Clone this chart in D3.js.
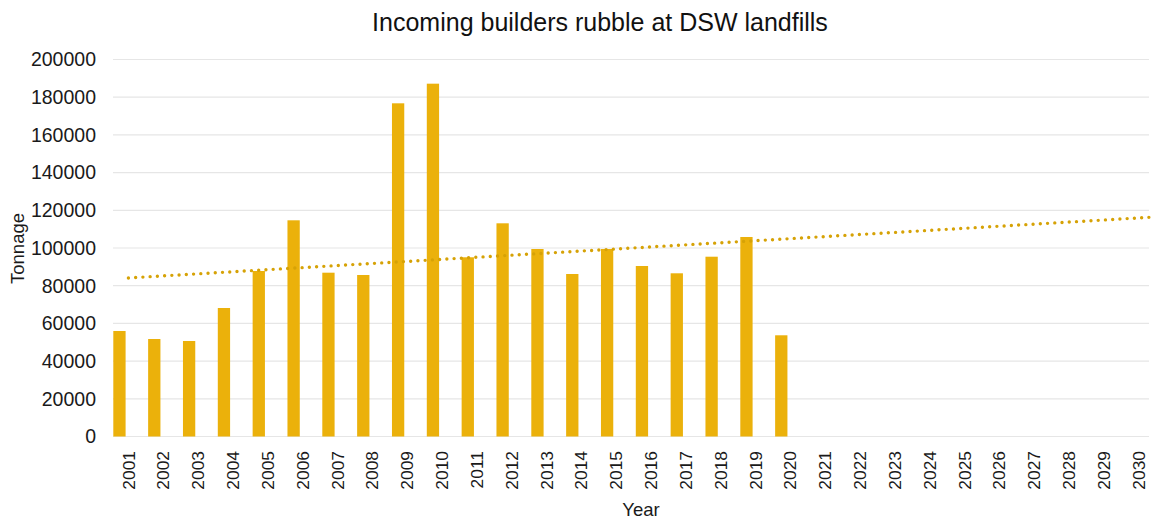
<!DOCTYPE html>
<html>
<head>
<meta charset="utf-8">
<script src="https://cdn.jsdelivr.net/npm/d3@7"></script>
<style>
  html, body { margin: 0; padding: 0; background: #fff; }
  svg { display: block; font-family: "Liberation Sans", Arial, sans-serif; }
</style>
</head>
<body>
<div id="chart"></div>
<script>
// data
const years = d3.range(2001, 2031).map(String)
const dataYears = d3.range(2001, 2021).map(String)
const tonnage = [
  55970, 51720, 50660, 68170, 87800, 114690, 86900, 85680, 176760, 187170,
  95070, 113100, 99470, 86210, 99470, 90450, 86580, 95380, 105840, 53690
]
const yTicks = d3.range(0, 200001, 20000)

const config = {
  width: 1154,
  height: 520,
  title: "Incoming builders rubble at DSW landfills",
  yTitle: "Tonnage",
  xTitle: "Year",
  barColor: "#ebb10b",
  trendColor: "#d6a206",
  gridColor: "#e6e6e6",
  textColor: "#1a1a1a",
  plot: { left: 113, right: 1149, top: 59.5, bottom: 436.5 },
  bandRange: [111, 1156]
}

const svg = d3.select("#chart").append("svg")
    .attr("width", config.width)
    .attr("height", config.height)

const x = d3.scaleBand()
    .domain(years)
    .range(config.bandRange)

const y = d3.scaleLinear()
    .domain([0, 200000])
    .range([config.plot.bottom, config.plot.top])

const step = x.step()
const barWidth = step * 0.353
const barOffset = step * 0.066

// gridlines + y labels
const yAxis = svg.append("g").attr("class", "y-axis")

yAxis.selectAll("line")
  .data(yTicks)
  .enter().append("line")
    .attr("x1", config.plot.left)
    .attr("x2", config.plot.right)
    .attr("y1", d => y(d))
    .attr("y2", d => y(d))
    .attr("stroke", config.gridColor)
    .attr("stroke-width", 1.2)

yAxis.selectAll("text")
  .data(yTicks)
  .enter().append("text")
    .attr("x", 96)
    .attr("y", d => y(d))
    .attr("dy", "0.35em")
    .attr("text-anchor", "end")
    .attr("font-size", 19.5)
    .attr("fill", config.textColor)
    .text(d => d)

// bars
svg.append("g").attr("class", "bars")
  .selectAll("rect")
  .data(dataYears.map((yr, i) => ({ year: yr, value: tonnage[i] })))
  .enter().append("rect")
    .attr("x", d => x(d.year) + barOffset)
    .attr("width", barWidth)
    .attr("y", d => y(d.value))
    .attr("height", d => y(0) - y(d.value))
    .attr("fill", config.barColor)

// linear trendline (least squares over the data years), forecast to the plot edge
const ts = tonnage.map((_, i) => i + 1)
const tMean = d3.mean(ts)
const vMean = d3.mean(tonnage)
const slope = d3.sum(ts, (t, i) => (t - tMean) * (tonnage[i] - vMean)) /
  d3.sum(ts, t => (t - tMean) * (t - tMean))
const intercept = vMean - slope * tMean

const xTrend = d3.scaleLinear()
    .domain([1, years.length])
    .range([x(years[0]) + step / 2, x(years[years.length - 1]) + step / 2])

const tEnd = xTrend.invert(config.plot.right)
const trendPoints = [1, tEnd].map(t => [xTrend(t), y(intercept + slope * t)])

svg.append("path")
    .attr("d", d3.line()(trendPoints))
    .attr("fill", "none")
    .attr("stroke", config.trendColor)
    .attr("stroke-width", 3.4)
    .attr("stroke-linecap", "round")
    .attr("stroke-dasharray", "0,7.25")

// x labels
svg.append("g").attr("class", "x-axis")
  .selectAll("text")
  .data(years)
  .enter().append("text")
    .attr("transform", d => `translate(${x(d) + step / 2},451) rotate(-90)`)
    .attr("dy", "0.35em")
    .attr("text-anchor", "end")
    .attr("font-size", 17.4)
    .attr("fill", config.textColor)
    .text(d => d)

// titles
svg.append("text")
    .attr("x", 600)
    .attr("y", 31)
    .attr("text-anchor", "middle")
    .attr("font-size", 25)
    .attr("fill", "#111")
    .text(config.title)

svg.append("text")
    .attr("transform", "translate(24,248.5) rotate(-90)")
    .attr("text-anchor", "middle")
    .attr("font-size", 18.5)
    .attr("fill", config.textColor)
    .text(config.yTitle)

svg.append("text")
    .attr("x", 641)
    .attr("y", 516)
    .attr("text-anchor", "middle")
    .attr("font-size", 18.5)
    .attr("fill", config.textColor)
    .text(config.xTitle)
</script>
</body>
</html>
